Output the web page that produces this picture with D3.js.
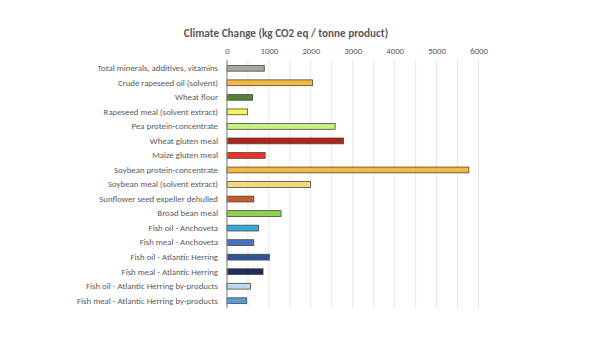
<!DOCTYPE html>
<html>
<head>
<meta charset="utf-8">
<script src="https://cdn.jsdelivr.net/npm/d3@7"></script>
<style>
  html, body { margin: 0; padding: 0; background: #ffffff; }
  svg { display: block; }
</style>
</head>
<body>
<svg id="chart" width="600" height="338"></svg>
<script>
const categories = [
  "Total minerals, additives, vitamins",
  "Crude rapeseed oil (solvent)",
  "Wheat flour",
  "Rapeseed meal (solvent extract)",
  "Pea protein-concentrate",
  "Wheat gluten meal",
  "Maize gluten meal",
  "Soybean protein-concentrate",
  "Soybean meal (solvent extract)",
  "Sunflower seed expeller dehulled",
  "Broad bean meal",
  "Fish oil - Anchoveta",
  "Fish meal - Anchoveta",
  "Fish oil - Atlantic Herring",
  "Fish meal - Atlantic Herring",
  "Fish oil - Atlantic Herring by-products",
  "Fish meal - Atlantic Herring by-products"
];
const values = [890, 2040, 610, 490, 2580, 2780, 910, 5770, 1990, 640, 1290, 750, 640, 1010, 860, 560, 470];
const barColors = [
  "#a6a6a6", "#f4b840", "#538135", "#f6f45c", "#c7ef86", "#b0221d",
  "#f0302a", "#f4b840", "#f7d67c", "#c65a28", "#8fd150", "#36a9e0",
  "#4472c4", "#2f5597", "#1f2d5a", "#bdd7ee", "#5b9bd5"
];
const tickValues = [0, 1000, 2000, 3000, 4000, 5000, 6000];
const gridValues = [500, 1000, 1500, 2000, 2500, 3000, 3500, 4000, 4500, 5000, 5500, 6000];
const title = "Climate Change (kg CO2 eq / tonne product)";

const svg = d3.select("#chart");
const font = "Carlito, 'Liberation Sans', 'Open Sans', sans-serif";
const textColor = "#595959";

const x = d3.scaleLinear().domain([0, 6000]).range([227, 478.5]);
const y = d3.scaleBand().domain(categories).range([61, 308]).paddingInner(0.6).paddingOuter(0.3);

// vertical gridlines
svg.append("g")
  .selectAll("line")
  .data(gridValues)
  .join("line")
  .attr("x1", d => x(d)).attr("x2", d => x(d))
  .attr("y1", 60).attr("y2", 308)
  .attr("stroke", "#e6e6e6")
  .attr("stroke-width", 1);

// top axis tick labels
const xAxis = d3.axisTop(x).tickValues(tickValues).tickSize(0).tickPadding(0).tickFormat(d3.format("d"));
const gx = svg.append("g").attr("transform", "translate(0,54)").call(xAxis);
gx.select(".domain").remove();
gx.selectAll("text")
  .attr("fill", textColor)
  .style("font-family", font)
  .style("font-size", "8.8px");

// bars
svg.append("g")
  .selectAll("rect")
  .data(categories)
  .join("rect")
  .attr("x", x(0))
  .attr("y", d => y(d))
  .attr("width", (d, i) => x(values[i]) - x(0))
  .attr("height", y.bandwidth())
  .attr("fill", (d, i) => barColors[i])
  .attr("stroke", "#4a4a3a")
  .attr("stroke-width", 0.8);

// category axis
const yAxis = d3.axisLeft(y).tickSize(0).tickPadding(9);
const gy = svg.append("g").attr("transform", `translate(${x(0)},0)`).call(yAxis);
gy.select(".domain").attr("stroke", "#8c8c8c").attr("stroke-width", 1.2).attr("d", `M0,60V308`);
gy.selectAll("text")
  .attr("fill", textColor)
  .style("font-family", font)
  .style("font-size", "8.8px");

// title
svg.append("text")
  .attr("x", 286)
  .attr("y", 37)
  .attr("text-anchor", "middle")
  .attr("fill", textColor)
  .style("font-family", font)
  .style("font-size", "11.2px")
  .style("font-weight", "bold")
  .text(title);
</script>
</body>
</html>
